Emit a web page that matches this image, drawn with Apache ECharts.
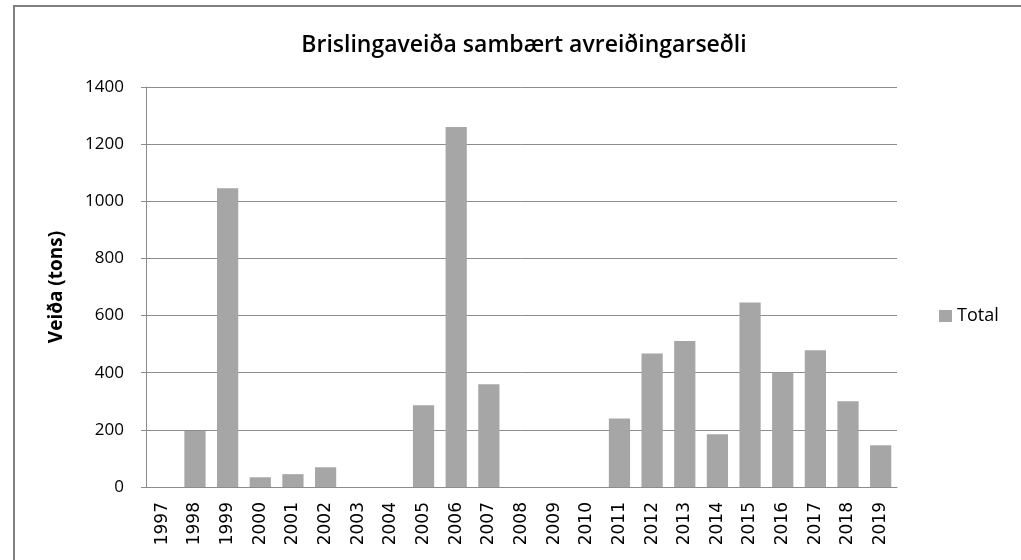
<!DOCTYPE html>
<html>
<head>
<meta charset="utf-8">
<script src="https://cdn.jsdelivr.net/npm/echarts@6/dist/echarts.min.js"></script>
<style>
  html, body { margin: 0; padding: 0; background: #fff; }
  #c1 { width: 1021px; height: 560px; }
</style>
</head>
<body>
<div id="c1"></div>
<script>
    // ár og veiða
    var years = ['1997', '1998', '1999', '2000', '2001', '2002', '2003', '2004', '2005', '2006', '2007', '2008',
        '2009', '2010', '2011', '2012', '2013', '2014', '2015', '2016', '2017', '2018', '2019'];
    var total = [0, 196, 1046, 34, 45, 69, 0, 0, 286, 1260, 360, 0, 0, 0, 240, 467, 511, 185, 646, 401, 479, 300, 146];
    var yTicks = [0, 200, 400, 600, 800, 1000, 1200, 1400];

    var chart_c1 = echarts.init(document.getElementById('c1'));
    var option = {
        animation: false,
        textStyle: {fontFamily: 'Open Sans', color: '#000'},
        title: {
            text: 'Brislingaveiða sambært avreiðingarseðli',
            left: 519,
            top: 29,
            textAlign: 'center',
            textStyle: {fontSize: 23, fontWeight: 600, fontFamily: 'Open Sans', color: '#000'}
        },
        legend: {
            data: ['Total'],
            orient: 'vertical',
            left: 934,
            top: 302,
            itemWidth: 13,
            itemHeight: 12,
            itemGap: 4,
            icon: 'rect',
            textStyle: {fontSize: 18, color: '#000', fontFamily: 'Open Sans'}
        },
        grid: {
            left: 146,
            right: 124,
            top: 87,
            bottom: 73
        },
        xAxis: {
            type: 'category',
            data: years,
            axisLine: {lineStyle: {color: '#8c8c8c'}},
            axisTick: {show: false},
            axisLabel: {
                rotate: 90,
                interval: 0,
                margin: 15,
                fontSize: 17,
                fontFamily: 'DejaVu Sans',
                color: '#000'
            }
        },
        yAxis: {
            type: 'value',
            min: yTicks[0],
            max: yTicks[yTicks.length - 1],
            interval: 200,
            name: 'Veiða (tons)',
            nameLocation: 'middle',
            nameGap: 80,
            nameTextStyle: {fontSize: 19, fontWeight: 'bold', fontFamily: 'Open Sans', color: '#000'},
            axisLine: {show: true, lineStyle: {color: '#8c8c8c'}},
            axisTick: {show: true, length: 5, lineStyle: {color: '#8c8c8c'}},
            axisLabel: {
                fontSize: 17,
                margin: 22,
                color: '#000',
                fontFamily: 'Open Sans',
                formatter: function (v) { return String(v); }
            },
            splitLine: {lineStyle: {color: '#8c8c8c', width: 1}}
        },
        series: [
            {
                name: 'Total',
                type: 'bar',
                data: total,
                barCategoryGap: '35%',
                itemStyle: {color: '#a6a6a6'}
            }
        ],
        graphic: [
            {
                type: 'rect',
                shape: {x: 14, y: 6, width: 1100, height: 700},
                style: {fill: 'none', stroke: '#7f7f7f', lineWidth: 2},
                silent: true
            }
        ]
    };
    chart_c1.setOption(option);
</script>
</body>
</html>
